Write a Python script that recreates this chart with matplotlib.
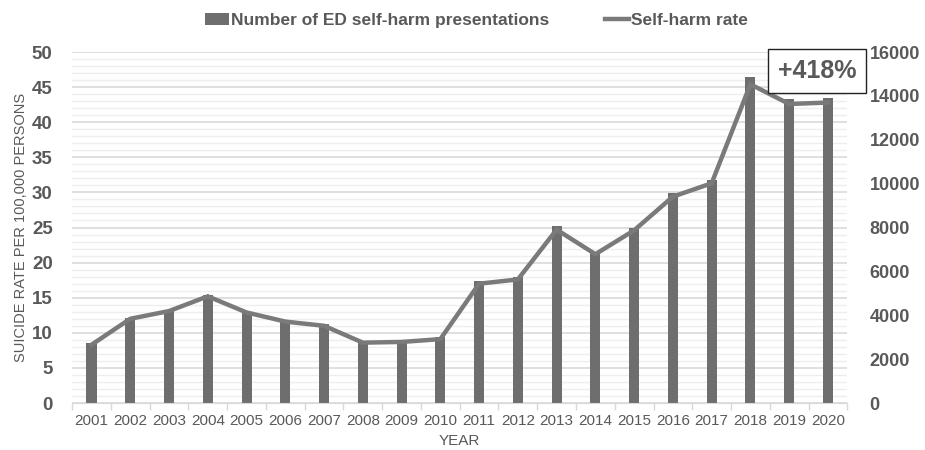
import matplotlib.pyplot as plt
import numpy as np
from matplotlib.ticker import MultipleLocator

# data
years = ['2001', '2002', '2003', '2004', '2005', '2006', '2007', '2008', '2009', '2010',
         '2011', '2012', '2013', '2014', '2015', '2016', '2017', '2018', '2019', '2020']
presentations = [2720, 3890, 4240, 4920, 4160, 3740, 3600, 2840, 2830, 2990,
                 5560, 5740, 8070, 6850, 7960, 9560, 10160, 14880, 13860, 13890]
rate = [8.3, 12.0, 13.1, 15.2, 12.9, 11.6, 11.0, 8.6, 8.7, 9.1,
        17.0, 17.6, 24.7, 21.2, 24.6, 29.4, 31.3, 45.4, 42.6, 42.8]

plt.rcParams['font.family'] = ['Liberation Sans', 'DejaVu Sans']
grey_txt = '#595959'
bar_col = '#6e6e6e'
line_col = '#7a7a7a'

fig = plt.figure(figsize=(9.25, 4.5), dpi=100)
ax = fig.add_axes([0.078, 0.1044, 0.838, 0.78])
ax2 = ax.twinx()
# bars (right axis) sit below the rate line (left axis)
ax2.set_zorder(ax.get_zorder() - 1)
ax.patch.set_visible(False)

x = np.arange(len(years))

# grid: every 1 rate unit (= 320 presentations), heavier every 5
for v in np.arange(0, 51, 1):
    ax2.axhline(v * 320, color='#d9d9d9' if v % 5 == 0 else '#eeeeee',
                linewidth=1.2 if v % 5 == 0 else 1.0, zorder=0)

bars = ax2.bar(x, presentations, width=0.26, color=bar_col, zorder=2,
               label='Number of ED self-harm presentations')
ax2.set_ylim(0, 16000)
ax2.yaxis.set_major_locator(MultipleLocator(2000))
ax2.tick_params(axis='y', length=0, labelsize=13, labelcolor=grey_txt, pad=16)
for lab in ax2.get_yticklabels():
    lab.set_fontweight('bold')

# line on the left axis
line, = ax.plot(x, rate, color=line_col, linewidth=3.2, solid_joinstyle='miter',
                label='Self-harm rate', zorder=3)
ax.set_ylim(0, 50)
ax.set_xlim(-0.5, len(years) - 0.5)
ax.yaxis.set_major_locator(MultipleLocator(5))
ax.tick_params(axis='y', length=0, labelsize=13.5, labelcolor=grey_txt, pad=14)
for lab in ax.get_yticklabels():
    lab.set_fontweight('bold')

ax.set_xticks(x)
ax.set_xticklabels(years)
ax.set_xticks(np.arange(-0.5, len(years), 1), minor=True)
ax.tick_params(axis='x', which='major', length=0, labelsize=11, labelcolor=grey_txt, pad=8)
ax.tick_params(axis='x', which='minor', length=5, color='#d9d9d9', width=1)

for a in (ax, ax2):
    for s in ('top', 'right', 'left'):
        a.spines[s].set_visible(False)
    a.spines['bottom'].set_color('#d9d9d9')
ax2.spines['bottom'].set_visible(False)

ax.set_xlabel('YEAR', fontsize=11, color=grey_txt, labelpad=4)
ax.set_ylabel('SUICIDE RATE PER 100,000 PERSONS', fontsize=10.5, color=grey_txt, labelpad=3)

ax.text(0.961, 0.947, '+418%', transform=ax.transAxes, ha='center', va='center',
        fontsize=18, fontweight='bold', color=grey_txt, zorder=5,
        bbox=dict(boxstyle='square,pad=0.4', facecolor='white', edgecolor='#222222', linewidth=1))

fig.legend([bars, line], ['Number of ED self-harm presentations', 'Self-harm rate'],
           loc='center', bbox_to_anchor=(0.515, 0.955), ncol=2, frameon=False,
           prop={'weight': 'bold', 'size': 12.5}, labelcolor=grey_txt,
           handlelength=1.4, handletextpad=0.1, columnspacing=3.2)

fig.savefig('out.png', dpi=100)
